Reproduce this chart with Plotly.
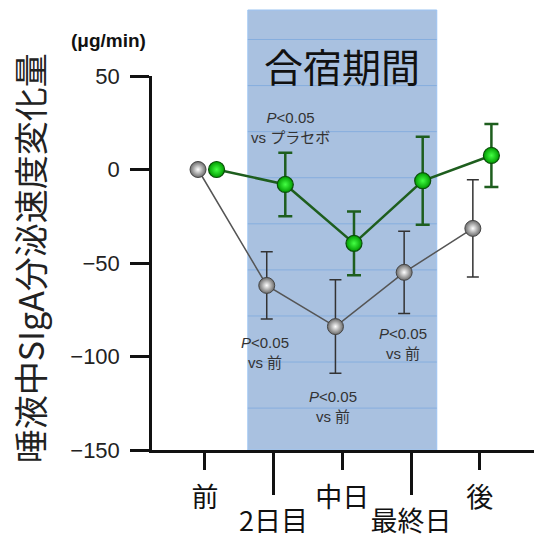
import plotly.graph_objects as go

# Time points of the study
timepoints = ["前", "2日目", "中日", "最終日", "後"]
x_idx = [0, 1, 2, 3, 4]

# Change in salivary SIgA secretion rate (µg/min), mean and SD
control_mean = [0, -62, -84, -55, -31.5]
control_sd = [0, 18, 25, 22, 26]
active_mean = [0, -8, -39.5, -6, 7.5]
active_sd = [0, 17, 17, 23.5, 16.8]

# Horizontal offsets so the two groups do not overlap
control_shift = -0.1
active_shift = 0.17

# Training camp period (in time-point units)
camp_start, camp_end = 0.625, 3.375

y_tick_vals = [-150, -100, -50, 0, 50]

CJK = "Noto Sans CJK JP"
LAT = "Liberation Sans"

fig = go.Figure()

fig.add_trace(go.Scatter(
    x=[v + control_shift for v in x_idx], y=control_mean,
    mode="lines+markers",
    line=dict(color="#555555", width=1.5),
    marker=dict(size=16, color="#6a6a6a",
                gradient=dict(type="radial", color="#ffffff"),
                line=dict(color="#444444", width=1)),
    error_y=dict(type="data", array=control_sd, visible=True,
                 color="#333333", thickness=1.5, width=6),
    showlegend=False,
))

fig.add_trace(go.Scatter(
    x=[v + active_shift for v in x_idx], y=active_mean,
    mode="lines+markers",
    line=dict(color="#1e5e1e", width=2.5),
    marker=dict(size=16, color="#009a00",
                gradient=dict(type="radial", color="#44ff44"),
                line=dict(color="#0b4f0b", width=1.2)),
    error_y=dict(type="data", array=active_sd, visible=True,
                 color="#1e5e1e", thickness=2.5, width=7),
    showlegend=False,
))

# Empty trace so the second (staggered) category axis is rendered
fig.add_trace(go.Scatter(x=[None], y=[None], xaxis="x2", yaxis="y",
                         showlegend=False, hoverinfo="skip"))

# Shaded band for the camp period, with faint horizontal rules
shapes = [dict(type="rect", xref="x", yref="paper",
               x0=camp_start, x1=camp_end, y0=0, y1=1.1765,
               fillcolor="#a9c1e0", line=dict(color="#9cc4f2", width=1),
               layer="below")]
for k in range(9):
    yp = 0.112 + 0.1232 * k
    shapes.append(dict(type="line", xref="x", yref="paper",
                       x0=camp_start, x1=camp_end, y0=yp, y1=yp,
                       line=dict(color="#86aede", width=1), layer="below"))

p_font = dict(family=LAT + ", " + CJK, size=15, color="#333333")
annotations = [
    dict(text="合宿期間", x=2, y=1.03, xref="x", yref="paper", showarrow=False,
         xanchor="center", yanchor="middle",
         font=dict(family=CJK, size=39, color="#111111")),
    dict(text="<i>P</i>&lt;0.05<br>vs プラセボ", x=1.25, y=22.7,
         xref="x", yref="y", showarrow=False, font=p_font),
    dict(text="<i>P</i>&lt;0.05<br>vs 前", x=0.87, y=-97.6,
         xref="x", yref="y", showarrow=False, font=p_font),
    dict(text="<i>P</i>&lt;0.05<br>vs 前", x=1.86, y=-127,
         xref="x", yref="y", showarrow=False, font=p_font),
    dict(text="<i>P</i>&lt;0.05<br>vs 前", x=2.88, y=-93.3,
         xref="x", yref="y", showarrow=False, font=p_font),
    dict(text="<b>(μg/min)</b>", x=-0.115, y=1.096, xref="paper", yref="paper",
         xanchor="center", yanchor="middle", showarrow=False,
         font=dict(family=LAT, size=19, color="#111111")),
    dict(text="唾液中SIgA分泌速度変化量",
         x=-0.32, y=0.512, xref="paper", yref="paper", textangle=-90,
         xanchor="center", yanchor="middle", showarrow=False,
         font=dict(family=CJK, size=34, color="#222222")),
]

axis_common = dict(range=[-0.77, 4.79], showgrid=False, zeroline=False,
                   ticks="outside", tickwidth=2.5, tickcolor="#111111",
                   tickfont=dict(family=CJK, size=27, color="#111111"))

fig.update_layout(
    width=534, height=543,
    margin=dict(l=152, r=0, t=76, b=93),
    paper_bgcolor="white", plot_bgcolor="white",
    shapes=shapes, annotations=annotations,
    xaxis=dict(**axis_common, tickvals=[x_idx[i] for i in (0, 2, 4)],
               ticktext=[timepoints[i] for i in (0, 2, 4)], ticklen=17,
               showline=True, linewidth=2.5, linecolor="#111111",
               ticklabelstandoff=5),
    xaxis2=dict(**axis_common, tickvals=[x_idx[i] for i in (1, 3)],
                ticktext=[timepoints[i] for i in (1, 3)], ticklen=44,
                showline=False, overlaying="x", anchor="y", side="bottom",
                ticklabelstandoff=4),
    yaxis=dict(range=[-150, 50], tickvals=y_tick_vals, showgrid=False,
               zeroline=False, ticks="outside", ticklen=19, tickwidth=2.5,
               tickcolor="#111111", showline=True, linewidth=2.5,
               linecolor="#111111", ticklabelstandoff=6,
               tickfont=dict(family=LAT, size=22, color="#222222")),
)

fig.write_html("out.html")
